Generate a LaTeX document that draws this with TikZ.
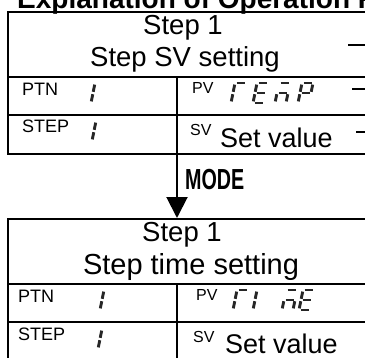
\documentclass[tikz,border=0pt]{standalone}
\usepackage{fontspec}
\usepackage{graphicx}
\setmainfont{Liberation Sans}
\usetikzlibrary{arrows.meta}
\def\gx{0}\def\gy{0}
\newcommand\gsl{0.2}
\newcommand\sga{\draw[segline] ({\gx+1.6+\gsl*20},{\gy-20}) -- ({\gx+9.8+\gsl*20},{\gy-20});}
\newcommand\sgb{\draw[segline] ({\gx+11+\gsl*18.4},{\gy-18.4}) -- ({\gx+11+\gsl*11.2},{\gy-11.2});}
\newcommand\sgc{\draw[segline] ({\gx+11+\gsl*8.8},{\gy-8.8}) -- ({\gx+11+\gsl*1.6},{\gy-1.6});}
\newcommand\sgd{\draw[segline] ({\gx+1.6},{\gy}) -- ({\gx+9.8},{\gy});}
\newcommand\sge{\draw[segline] ({\gx+\gsl*8.8},{\gy-8.8}) -- ({\gx+\gsl*1.6},{\gy-1.6});}
\newcommand\sgf{\draw[segline] ({\gx+\gsl*18.4},{\gy-18.4}) -- ({\gx+\gsl*11.2},{\gy-11.2});}
\newcommand\sgg{\draw[segline] ({\gx+1.6+\gsl*10},{\gy-10}) -- ({\gx+9.8+\gsl*10},{\gy-10});}
\newcommand\sevseg[3]{\def\gx{#1}\def\gy{#2}#3}
\begin{document}
\begin{tikzpicture}[x=1pt,y=-1pt,
  boxline/.style={line width=2.4pt},
  segline/.style={line width=2.9pt, draw=black!85, line cap=butt},
  lbl/.style={font=\fontsize{18}{18}\selectfont, anchor=base west, inner sep=0},
  sublbl/.style={font=\fontsize{16}{16}\selectfont, anchor=base west, inner sep=0},
  bigtxt/.style={font=\fontsize{27.5}{27.5}\selectfont, anchor=base, inner sep=0},
  valtxt/.style={font=\fontsize{27}{27}\selectfont, anchor=base west, inner sep=0},
  dashmark/.style={line width=1.6pt}]
\useasboundingbox (0,0) rectangle (365,357);
\clip (0,0) rectangle (365,357);
% heading
\node[anchor=base west, inner sep=0, font=\bfseries\fontsize{28}{28}\selectfont] (head) at (17,8) {Explanation of Operation Flow};
% boxes
\node[draw, boxline, anchor=north west, minimum width=420pt, minimum height=142pt, inner sep=0] (box1) at (7,11) {};
\node[draw, boxline, anchor=north west, minimum width=420pt, minimum height=144pt, inner sep=0] (box2) at (7,218) {};
\coordinate (div) at (177,0);
% box 1 rules
\draw[boxline] (7,77) -- (427,77);
\draw[boxline] (7,115) -- (427,115);
\draw[boxline] (div |- {(0,77)}) -- (box1.south -| div);
% box 2 rules
\draw[boxline] (7,284) -- (427,284);
\draw[boxline] (7,322) -- (427,322);
\draw[boxline] (div |- {(0,284)}) -- (box2.south -| div);
% arrow
\draw[line width=2pt, -{Triangle[width=21pt,length=21pt]}] (box1.south -| div) -- (box2.north -| div);
\node[anchor=base west, inner sep=0, font=\bfseries\fontsize{29}{29}\selectfont] (mode) at (185,189) {\scalebox{0.68}[1]{MODE}};
% box 1 texts
\node[bigtxt] (t1a) at (183,34) {Step 1};
\node[bigtxt] (t1b) at (185,66) {Step SV setting};
\node[lbl] (ptn1) at (22,95) {PTN};
\node[lbl] (step1) at (22,132) {STEP};
\node[sublbl] (pv1) at (192,93) {PV};
\node[sublbl] (sv1) at (190,135) {SV};
\node[valtxt] (val1) at (220,147) {Set value};
\sevseg{80}{103}{\sgb\sgc}
\sevseg{81}{141}{\sgb\sgc}
\sevseg{231}{103}{\sga\sge\sgf}
\sevseg{253}{103}{\sga\sgd\sge\sgf\sgg}
\sevseg{275}{103}{\sga\sgc\sge\sgg}
\sevseg{298}{103}{\sga\sgb\sge\sgf\sgg}
% box 2 texts
\node[bigtxt] (t2a) at (182,241) {Step 1};
\node[bigtxt, font=\fontsize{29}{29}\selectfont] (t2b) at (191,274) {Step time setting};
\node[lbl] (ptn2) at (18,302) {PTN};
\node[lbl] (step2) at (18,340) {STEP};
\node[sublbl] (pv2) at (196,300) {PV};
\node[sublbl] (sv2) at (193,342) {SV};
\node[valtxt] (val2) at (225,353) {Set value};
\sevseg{89}{310}{\sgb\sgc}
\sevseg{87}{349}{\sgb\sgc}
\sevseg{233}{310}{\sga\sge\sgf}
\sevseg{253}{310}{\sge\sgf}
\sevseg{282}{310}{\sga\sgc\sge\sgg}
\sevseg{299}{310}{\sga\sgd\sge\sgf\sgg}
% right-hand marks
\draw[dashmark] (348,45) -- (365,45);
\draw[dashmark] (352,89) -- (365,89);
\draw[dashmark] (356,132) -- (365,132);
\end{tikzpicture}
\end{document}
